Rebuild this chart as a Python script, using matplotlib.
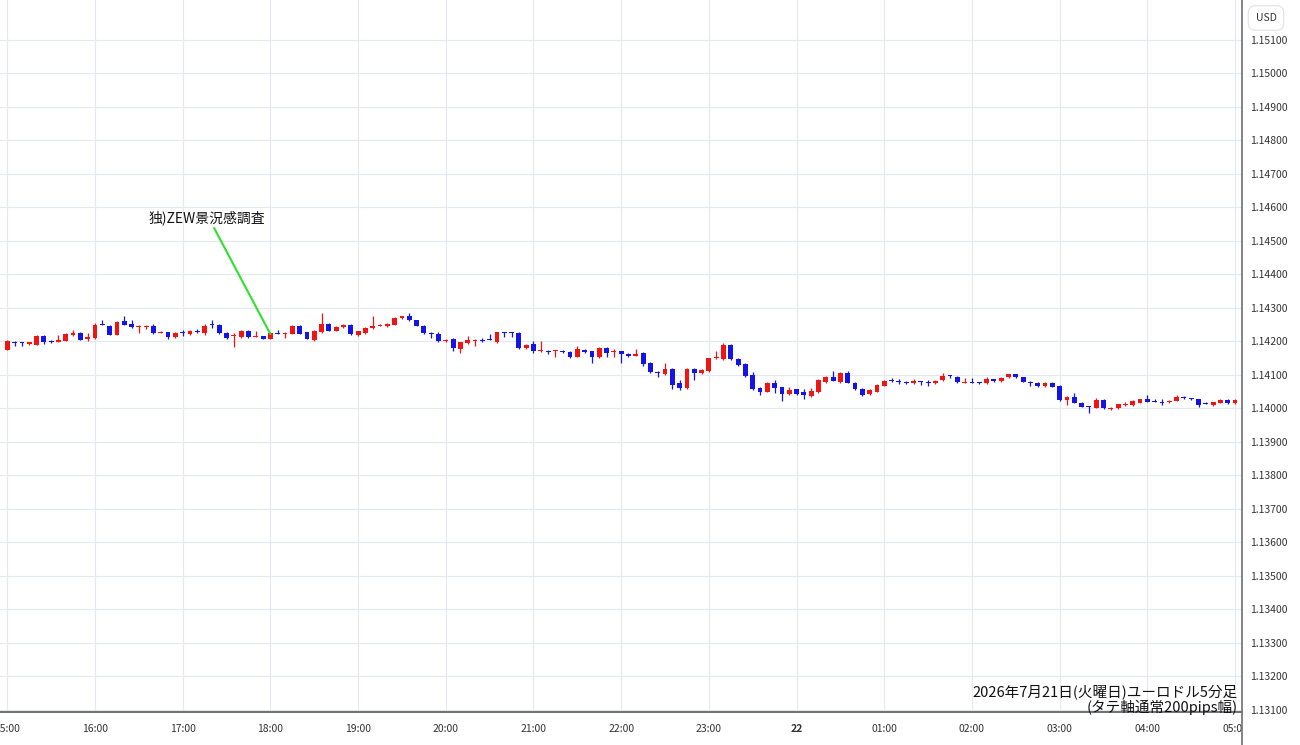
import matplotlib
matplotlib.use('Agg')

import matplotlib.pyplot as plt
import numpy as np
from matplotlib.lines import Line2D
from matplotlib.transforms import Bbox, TransformedBbox

plt.rcParams['font.family'] = ['Noto Sans CJK JP', 'DejaVu Sans']

UP = '#f01414'
DOWN = '#1414e6'
GRID = '#e3e9f0'
AXIS = '#707070'
TXT = '#333333'

hour_lbls = ['15:00', '16:00', '17:00', '18:00', '19:00', '20:00', '21:00', '22:00',
             '23:00', '22', '01:00', '02:00', '03:00', '04:00', '05:00']

# EUR/USD 5min candles, 15:00 -> 05:00 (one row = one hour)
opens = [
    1.14175, 1.14198, 1.14197, 1.14193, 1.14190, 1.14215, 1.14200, 1.14197, 1.14202, 1.14220, 1.14225, 1.14207,
    1.14210, 1.14252, 1.14247, 1.14220, 1.14260, 1.14253, 1.14244, 1.14244, 1.14245, 1.14225, 1.14227, 1.14213,
    1.14226, 1.14222, 1.14231, 1.14225, 1.14251, 1.14250, 1.14225, 1.14217, 1.14213, 1.14232, 1.14214, 1.14215,
    1.14208, 1.14225, 1.14221, 1.14223, 1.14247, 1.14227, 1.14205, 1.14228, 1.14252, 1.14232, 1.14243, 1.14250,
    1.14220, 1.14225, 1.14240, 1.14247, 1.14245, 1.14250, 1.14270, 1.14275, 1.14263, 1.14247, 1.14226, 1.14223,
    1.14200, 1.14207, 1.14177, 1.14195, 1.14202, 1.14204, 1.14206, 1.14198, 1.14227, 1.14226, 1.14225, 1.14180,
    1.14193, 1.14170, 1.14171, 1.14171, 1.14171, 1.14167, 1.14155, 1.14175, 1.14170, 1.14153, 1.14180, 1.14168,
    1.14170, 1.14163, 1.14157, 1.14165, 1.14137, 1.14110, 1.14102, 1.14118, 1.14075, 1.14060, 1.14118, 1.14105,
    1.14112, 1.14150, 1.14147, 1.14190, 1.14147, 1.14133, 1.14100, 1.14060, 1.14050, 1.14077, 1.14063, 1.14043,
    1.14057, 1.14050, 1.14037, 1.14048, 1.14080, 1.14095, 1.14080, 1.14107, 1.14077, 1.14057, 1.14042, 1.14050,
    1.14068, 1.14084, 1.14081, 1.14079, 1.14075, 1.14081, 1.14079, 1.14077, 1.14085, 1.14098, 1.14095, 1.14077,
    1.14079, 1.14078, 1.14075, 1.14087, 1.14082, 1.14093, 1.14102, 1.14093, 1.14080, 1.14077, 1.14067, 1.14077,
    1.14067, 1.14025, 1.14035, 1.14017, 1.14006, 1.14002, 1.14025, 1.13998, 1.14000, 1.14011, 1.14010, 1.14017,
    1.14027, 1.14021, 1.14019, 1.14018, 1.14023, 1.14033, 1.14031, 1.14027, 1.14016, 1.14010, 1.14017, 1.14025,
    1.14015,
]
highs = [
    1.14203, 1.14200, 1.14198, 1.14199, 1.14220, 1.14218, 1.14205, 1.14220, 1.14225, 1.14233, 1.14227, 1.14225,
    1.14255, 1.14265, 1.14248, 1.14260, 1.14275, 1.14265, 1.14248, 1.14248, 1.14252, 1.14230, 1.14228, 1.14227,
    1.14235, 1.14234, 1.14237, 1.14253, 1.14263, 1.14252, 1.14227, 1.14225, 1.14234, 1.14235, 1.14230, 1.14217,
    1.14228, 1.14235, 1.14227, 1.14250, 1.14249, 1.14229, 1.14234, 1.14285, 1.14254, 1.14245, 1.14253, 1.14252,
    1.14232, 1.14242, 1.14277, 1.14252, 1.14255, 1.14272, 1.14277, 1.14285, 1.14265, 1.14249, 1.14227, 1.14227,
    1.14207, 1.14209, 1.14199, 1.14215, 1.14206, 1.14210, 1.14222, 1.14229, 1.14228, 1.14227, 1.14227, 1.14192,
    1.14200, 1.14200, 1.14175, 1.14174, 1.14173, 1.14170, 1.14185, 1.14176, 1.14172, 1.14182, 1.14182, 1.14177,
    1.14171, 1.14165, 1.14177, 1.14167, 1.14139, 1.14112, 1.14135, 1.14120, 1.14085, 1.14120, 1.14120, 1.14117,
    1.14152, 1.14170, 1.14195, 1.14193, 1.14150, 1.14137, 1.14110, 1.14065, 1.14079, 1.14085, 1.14065, 1.14065,
    1.14059, 1.14057, 1.14060, 1.14087, 1.14097, 1.14113, 1.14110, 1.14113, 1.14080, 1.14060, 1.14057, 1.14072,
    1.14085, 1.14090, 1.14087, 1.14082, 1.14087, 1.14082, 1.14085, 1.14084, 1.14107, 1.14099, 1.14097, 1.14090,
    1.14090, 1.14080, 1.14093, 1.14088, 1.14094, 1.14104, 1.14104, 1.14095, 1.14081, 1.14079, 1.14080, 1.14079,
    1.14069, 1.14037, 1.14045, 1.14019, 1.14007, 1.14030, 1.14027, 1.14003, 1.14014, 1.14020, 1.14024, 1.14029,
    1.14040, 1.14027, 1.14027, 1.14025, 1.14040, 1.14037, 1.14031, 1.14029, 1.14020, 1.14020, 1.14027, 1.14027,
    1.14027,
]
lows = [
    1.14173, 1.14185, 1.14187, 1.14190, 1.14188, 1.14193, 1.14195, 1.14197, 1.14200, 1.14217, 1.14203, 1.14200,
    1.14208, 1.14248, 1.14218, 1.14218, 1.14248, 1.14240, 1.14225, 1.14237, 1.14222, 1.14224, 1.14207, 1.14210,
    1.14215, 1.14220, 1.14225, 1.14220, 1.14240, 1.14223, 1.14208, 1.14182, 1.14210, 1.14210, 1.14213, 1.14206,
    1.14206, 1.14221, 1.14210, 1.14222, 1.14221, 1.14206, 1.14200, 1.14226, 1.14230, 1.14230, 1.14240, 1.14220,
    1.14217, 1.14223, 1.14238, 1.14245, 1.14243, 1.14248, 1.14268, 1.14260, 1.14245, 1.14223, 1.14210, 1.14197,
    1.14198, 1.14170, 1.14165, 1.14193, 1.14185, 1.14198, 1.14203, 1.14196, 1.14212, 1.14213, 1.14178, 1.14178,
    1.14165, 1.14169, 1.14163, 1.14153, 1.14165, 1.14150, 1.14153, 1.14165, 1.14135, 1.14151, 1.14153, 1.14155,
    1.14137, 1.14155, 1.14156, 1.14128, 1.14106, 1.14095, 1.14100, 1.14057, 1.14055, 1.14058, 1.14085, 1.14103,
    1.14110, 1.14149, 1.14145, 1.14145, 1.14127, 1.14093, 1.14055, 1.14040, 1.14048, 1.14045, 1.14023, 1.14040,
    1.14040, 1.14027, 1.14035, 1.14046, 1.14077, 1.14082, 1.14077, 1.14075, 1.14055, 1.14038, 1.14040, 1.14048,
    1.14066, 1.14078, 1.14073, 1.14074, 1.14073, 1.14070, 1.14068, 1.14073, 1.14083, 1.14092, 1.14076, 1.14076,
    1.14076, 1.14072, 1.14073, 1.14080, 1.14080, 1.14091, 1.14091, 1.14078, 1.14067, 1.14065, 1.14065, 1.14063,
    1.14023, 1.14010, 1.14015, 1.14003, 1.13985, 1.14000, 1.13998, 1.13996, 1.13998, 1.14007, 1.14008, 1.14015,
    1.14018, 1.14018, 1.14010, 1.14016, 1.14021, 1.14027, 1.14025, 1.14005, 1.14013, 1.14008, 1.14015, 1.14013,
    1.14013,
]
closes = [
    1.14200, 1.14194, 1.14194, 1.14197, 1.14215, 1.14197, 1.14198, 1.14205, 1.14222, 1.14225, 1.14205, 1.14212,
    1.14250, 1.14249, 1.14220, 1.14258, 1.14250, 1.14243, 1.14247, 1.14246, 1.14225, 1.14229, 1.14213, 1.14225,
    1.14224, 1.14232, 1.14229, 1.14247, 1.14249, 1.14225, 1.14210, 1.14220, 1.14232, 1.14213, 1.14217, 1.14208,
    1.14225, 1.14222, 1.14223, 1.14247, 1.14223, 1.14208, 1.14232, 1.14253, 1.14232, 1.14243, 1.14250, 1.14222,
    1.14230, 1.14240, 1.14245, 1.14249, 1.14253, 1.14270, 1.14275, 1.14263, 1.14247, 1.14225, 1.14223, 1.14200,
    1.14205, 1.14180, 1.14197, 1.14203, 1.14205, 1.14202, 1.14204, 1.14227, 1.14224, 1.14224, 1.14180, 1.14190,
    1.14170, 1.14173, 1.14169, 1.14173, 1.14169, 1.14155, 1.14177, 1.14168, 1.14155, 1.14180, 1.14165, 1.14171,
    1.14163, 1.14157, 1.14163, 1.14132, 1.14108, 1.14105, 1.14118, 1.14070, 1.14060, 1.14118, 1.14105, 1.14115,
    1.14150, 1.14155, 1.14190, 1.14147, 1.14130, 1.14097, 1.14057, 1.14050, 1.14077, 1.14060, 1.14043, 1.14055,
    1.14043, 1.14040, 1.14052, 1.14085, 1.14095, 1.14083, 1.14107, 1.14075, 1.14057, 1.14040, 1.14055, 1.14070,
    1.14083, 1.14082, 1.14079, 1.14077, 1.14083, 1.14079, 1.14077, 1.14083, 1.14098, 1.14096, 1.14078, 1.14079,
    1.14077, 1.14076, 1.14087, 1.14082, 1.14092, 1.14102, 1.14093, 1.14080, 1.14077, 1.14067, 1.14077, 1.14065,
    1.14025, 1.14035, 1.14017, 1.14005, 1.14004, 1.14025, 1.14000, 1.14002, 1.14012, 1.14013, 1.14022, 1.14027,
    1.14020, 1.14019, 1.14017, 1.14023, 1.14035, 1.14031, 1.14029, 1.14010, 1.14014, 1.14018, 1.14025, 1.14015,
    1.14025,
]

event_lbl = '独)ZEW景況感調査'
event_idx = 36

W, H = 1300, 745
fig = plt.figure(figsize=(W / 100, H / 100), dpi=100)
ax = fig.add_axes([0, 33 / H, 1242 / W, 712 / H])

o = np.array(opens)
hi = np.array(highs)
lo = np.array(lows)
c = np.array(closes)
x = np.arange(len(o))
cols = np.where(c >= o, UP, DOWN)

ax.vlines(x, lo, hi, colors=cols, lw=0.9, zorder=3)
body_h = np.maximum(np.abs(c - o), 0.00003)
ax.bar(x, body_h, 0.66, bottom=np.minimum(o, c), color=cols, lw=0, zorder=4)

ax.set_xlim(-1.0, 168.95)
ax.set_ylim(1.13094, 1.15219)
ax.set_xticks(np.arange(0, len(hour_lbls) * 12, 12))
ax.set_xticklabels(hour_lbls)
ax.set_yticks(np.arange(1.131, 1.1515, 0.001))
ax.yaxis.tick_right()
ax.yaxis.set_major_formatter(lambda v, p: f'{v:.5f}')
ax.tick_params(axis='both', length=0, labelsize=7.5, labelcolor=TXT)
ax.tick_params(axis='x', pad=9)
ax.tick_params(axis='y', pad=6)
ax.grid(color=GRID, lw=0.8)
ax.set_axisbelow(True)

for s in ['top', 'left', 'right']:
    ax.spines[s].set_visible(False)
ax.spines['bottom'].set_color(AXIS)
ax.spines['bottom'].set_linewidth(1.4)

xl = ax.get_xticklabels()
xl[9].set_fontweight('bold')
xl[-1].set_clip_box(TransformedBbox(Bbox([[0, 0], [1242 / W, 1]]), fig.transFigure))
xl[-1].set_clip_on(True)

fig.add_artist(Line2D([1242 / W, 1242 / W], [0, 1], transform=fig.transFigure, color=AXIS, lw=1.2))

ax.annotate(event_lbl, xy=(event_idx, closes[event_idx] - 0.00003), xytext=(27.3, 1.14569),
            textcoords='data', ha='center', va='center', fontsize=10, color='#111111',
            arrowprops=dict(arrowstyle='-', color='#2fe02f', lw=1.5, shrinkA=0, shrinkB=0,
                            relpos=(0.55, 0.0)), zorder=6)

fig.text(1238 / W, 1 - 693 / H, '2026年7月21日(火曜日)ユーロドル5分足', ha='right', va='center',
         fontsize=10.5, color='#111111')
fig.text(1238 / W, 1 - 707 / H, '(タテ軸通常200pips幅)', ha='right', va='center',
         fontsize=10.5, color='#111111')

fig.text(1266 / W, 1 - 18 / H, 'USD', ha='center', va='center', fontsize=7.5, color=TXT,
         bbox=dict(boxstyle='round,pad=0.7', fc='white', ec='#e2e2e2', lw=0.8))

plt.savefig('out.png', dpi=100)
plt.close()
